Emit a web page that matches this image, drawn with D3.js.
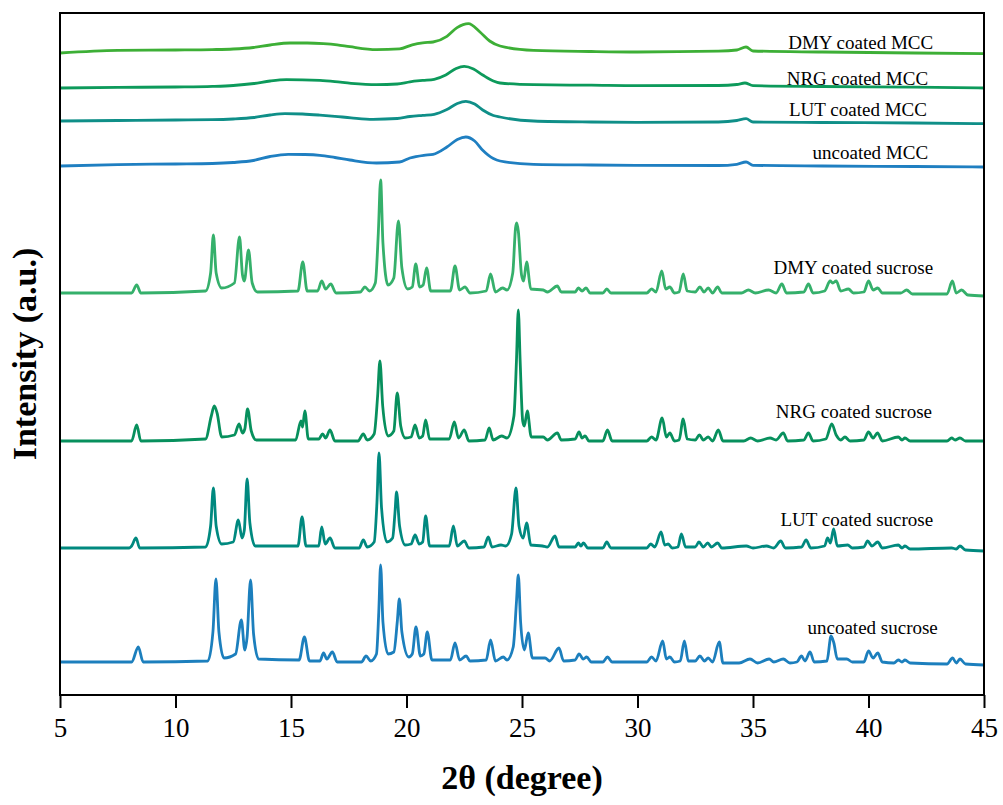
<!DOCTYPE html>
<html>
<head>
<meta charset="utf-8">
<title>XRD patterns</title>
<script src="https://cdn.jsdelivr.net/npm/d3@7"></script>
<style>
  html, body { margin: 0; padding: 0; background: #fff; }
  #chart { width: 1003px; height: 805px; }
  text { font-family: "Liberation Serif", "Times New Roman", serif; fill: #000; }
</style>
</head>
<body>
<div id="chart"></div>
<script>
// x ticks (2θ, degree)
const xTicks = [5, 10, 15, 20, 25, 30, 35, 40, 45];

// series names, bottom to top
const seriesNames = [
  'uncoated sucrose', 'LUT coated sucrose', 'NRG coated sucrose', 'DMY coated sucrose',
  'uncoated MCC', 'LUT coated MCC', 'NRG coated MCC', 'DMY coated MCC'
];

// vertical offset of each pattern (a.u.)
const seriesOffsets = [33, 147, 254, 402, 529, 574, 607, 642];

// label anchors: right edge in 2θ, height in a.u.
const labelX = [43.0, 42.8, 42.75, 42.8, 42.58, 42.53, 42.58, 42.8];
const labelY = [61, 169, 277, 421, 536, 579, 610, 646];

// [2θ, intensity]
const sucroseUncoated = [
  [5,0],[8.1,0],[8.39,15],[8.6,0],[11.4,1],[11.62,30],[11.75,83],[11.88,30],[12.1,4],[12.6,8],
  [12.85,42],[13.0,12],[13.1,25],[13.25,82],[13.38,28],[13.6,3],[15.35,2],[15.58,25],[15.8,1],
  [16.25,1],[16.41,9],[16.55,3],[16.79,10],[17.0,0],[18.05,0],[18.25,6],[18.45,1],[18.7,8],
  [18.8,50],[18.88,97],[18.98,40],[19.2,8],[19.45,10],[19.6,40],[19.69,63],[19.8,30],[20.1,5],
  [20.25,8],[20.41,35],[20.6,6],[20.75,8],[20.9,30],[21.1,2],[21.9,2],[22.1,19],[22.3,2],
  [22.58,6],[22.75,1],[23.45,2],[23.64,22],[23.85,1],[24.19,5],[24.35,2],[24.62,15],[24.76,60],
  [24.84,87],[24.94,40],[25.1,12],[25.27,29],[25.45,4],[26.0,4],[26.2,1],[26.6,14],[26.8,1],
  [27.3,2],[27.47,8],[27.65,3],[27.8,5],[28.0,0],[28.5,0],[28.7,5],[28.9,0],[30.4,0],[30.61,5],
  [30.8,1],[31.09,21],[31.25,3],[31.4,5],[31.6,0],[31.85,1],[32.03,21],[32.2,1],[32.5,1],
  [32.7,6],[32.9,1],[33.06,4],[33.25,0],[33.54,20],[33.7,-1],[34.4,-1],[34.87,3],[35.2,-1],
  [35.7,3],[35.9,0],[36.31,3],[36.6,-1],[36.9,0],[37.1,6],[37.25,1],[37.47,10],[37.65,0],
  [38.2,1],[38.38,26],[38.5,19],[38.65,3],[39.06,3],[39.3,0],[39.8,0],[40.0,11],[40.2,4],
  [40.4,9],[40.6,0],[41.1,-1],[41.29,2],[41.45,0],[41.58,2],[41.8,-1],[43.4,-2],[43.64,4],
  [43.8,-1],[43.96,3],[44.2,-2],[45,-3]
];

const sucroseLUT = [
  [5,0],[8.0,0],[8.1,2],[8.29,10],[8.45,0],[11.3,1],[11.52,22],[11.64,60],[11.76,22],[12.0,4],
  [12.5,6],[12.72,28],[12.88,10],[12.98,18],[13.1,69],[13.22,25],[13.45,2],[15.3,2],[15.48,31],
  [15.65,2],[16.2,2],[16.33,21],[16.48,4],[16.69,10],[16.9,0],[17.95,0],[18.13,8],[18.3,1],
  [18.6,6],[18.72,45],[18.81,95],[18.92,40],[19.15,6],[19.4,10],[19.5,35],[19.57,56],[19.7,22],
  [19.95,3],[20.2,4],[20.37,13],[20.55,4],[20.7,6],[20.83,32],[21.0,2],[21.85,2],[22.03,22],
  [22.2,2],[22.5,7],[22.7,0],[23.35,1],[23.54,11],[23.7,1],[24.09,3],[24.3,2],[24.55,14],
  [24.74,60],[24.87,22],[25.05,10],[25.2,25],[25.38,3],[25.89,2],[26.1,1],[26.43,12],[26.6,1],
  [27.3,1],[27.44,5],[27.55,2],[27.66,5],[27.85,0],[28.5,0],[28.67,6],[28.85,0],[30.4,0],
  [30.57,4],[30.75,1],[31.02,16],[31.18,3],[31.33,4],[31.5,0],[31.75,1],[31.9,14],[32.08,1],
  [32.5,1],[32.66,6],[32.85,1],[33.04,5],[33.2,1],[33.47,5],[33.65,0],[34.71,2],[35.0,0],
  [35.58,2],[35.9,0],[36.2,7],[36.4,0],[37.1,1],[37.3,8],[37.5,0],[38.1,2],[38.23,10],
  [38.35,5],[38.49,19],[38.65,2],[39.1,3],[39.3,0],[39.8,1],[39.96,7],[40.15,2],[40.4,6],
  [40.6,0],[41.29,3],[41.45,0],[41.58,2],[41.8,-1],[43.6,0],[43.8,-1],[43.96,2],[44.2,-2],
  [45,-3]
];

const sucroseNRG = [
  [5,0],[8.1,0],[8.32,16],[8.5,0],[11.3,2],[11.55,25],[11.68,35],[11.8,28],[12.0,4],[12.55,6],
  [12.75,17],[12.9,8],[13.0,12],[13.12,32],[13.28,10],[13.5,1],[15.2,1],[15.43,20],[15.5,14],
  [15.6,30],[15.75,2],[16.2,2],[16.37,7],[16.5,3],[16.69,11],[16.9,0],[17.9,0],[18.13,7],
  [18.3,1],[18.6,7],[18.75,45],[18.85,80],[18.97,35],[19.2,5],[19.45,10],[19.6,48],[19.75,15],
  [19.95,3],[20.2,4],[20.37,16],[20.55,3],[20.7,5],[20.83,21],[21.0,2],[21.85,2],[22.07,19],
  [22.25,3],[22.5,11],[22.7,0],[23.4,1],[23.58,13],[23.75,1],[24.12,5],[24.35,3],[24.65,25],
  [24.76,80],[24.84,131],[24.92,80],[25.03,20],[25.1,15],[25.23,30],[25.4,4],[25.92,4],
  [26.1,1],[26.53,8],[26.7,1],[27.3,2],[27.47,9],[27.6,3],[27.73,5],[27.9,0],[28.5,0],
  [28.7,11],[28.9,0],[30.4,0],[30.61,4],[30.8,1],[31.07,23],[31.25,4],[31.4,8],[31.6,0],
  [31.8,1],[31.98,22],[32.15,2],[32.5,1],[32.68,6],[32.85,1],[33.06,4],[33.25,0],[33.5,11],
  [33.7,0],[34.6,0],[34.9,3],[35.2,0],[35.74,3],[36.0,1],[36.31,8],[36.5,0],[37.2,1],
  [37.4,8],[37.6,0],[38.15,2],[38.41,17],[38.6,6],[38.8,1],[38.98,4],[39.2,0],[39.8,1],
  [40.0,9],[40.2,3],[40.39,8],[40.6,0],[41.29,4],[41.45,1],[41.58,3],[41.8,0],[43.4,0],
  [43.6,3],[43.75,1],[43.96,3],[44.2,0],[45,0]
];

const sucroseDMY = [
  [5,0],[8.1,0],[8.32,8],[8.5,0],[11.3,2],[11.52,20],[11.64,58],[11.76,20],[12.0,5],[12.55,10],
  [12.77,56],[12.9,18],[12.98,12],[13.16,43],[13.32,10],[13.55,1],[15.3,2],[15.51,31],[15.7,2],
  [16.15,2],[16.33,12],[16.5,4],[16.72,9],[16.95,0],[18.0,1],[18.2,6],[18.4,2],[18.65,10],
  [18.78,60],[18.88,113],[18.98,50],[19.2,8],[19.45,15],[19.65,72],[19.8,25],[20.05,4],
  [20.25,6],[20.4,29],[20.57,6],[20.72,8],[20.87,25],[21.05,2],[21.9,2],[22.1,27],[22.3,3],
  [22.53,6],[22.75,0],[23.45,2],[23.64,19],[23.85,1],[24.16,5],[24.35,3],[24.6,20],[24.72,65],
  [24.77,70],[24.84,62],[24.98,18],[25.07,12],[25.2,31],[25.38,4],[25.92,3],[26.1,1],
  [26.53,7],[26.7,1],[27.3,1],[27.44,5],[27.6,2],[27.77,5],[27.95,0],[28.5,0],[28.67,4],
  [28.85,0],[30.4,0],[30.61,4],[30.8,1],[31.05,22],[31.22,4],[31.4,6],[31.6,0],[31.8,1],
  [31.98,19],[32.15,2],[32.5,1],[32.7,6],[32.88,1],[33.06,5],[33.25,0],[33.47,6],[33.65,0],
  [34.5,0],[34.8,3],[35.1,0],[35.68,3],[36.0,0],[36.25,9],[36.45,0],[37.2,1],[37.4,9],
  [37.6,0],[38.1,2],[38.34,12],[38.45,10],[38.6,12],[38.8,2],[39.13,4],[39.35,0],[39.8,1],
  [40.0,12],[40.2,3],[40.4,5],[40.6,0],[41.4,0],[41.65,3],[41.9,-1],[43.4,-1],[43.63,12],
  [43.8,0],[44.03,3],[44.3,-2],[45,-3]
];

const mccUncoated = [
  [5,0],[7.5,1.4],[10,2],[11.6,2.5],[12.5,3.5],[13.37,5.5],[14.1,9.5],[14.88,11.7],[15.6,11.5],
  [16.25,10.7],[16.9,8.5],[17.55,6],[18.7,3],[19.7,4],[20.15,8],[20.75,10.7],[21.15,11.6],
  [21.75,19],[22.2,26.5],[22.57,29],[22.95,25],[23.3,15.7],[23.76,7.4],[24.05,5],[25.5,1.7],
  [28,1],[30,0.7],[33.5,0.5],[34.3,1.7],[34.7,4],[35.0,0.7],[38,0],[42,-0.5],[45,-1]
];

const mccLUT = [
  [5,0],[7.5,0.5],[10,1],[11.6,1.3],[12.5,2],[13.4,3.5],[14.1,6],[14.74,7.4],[15.5,7],
  [16.25,5.9],[16.9,4.7],[17.6,3.2],[18.55,1.7],[19.6,2.5],[20.15,4.5],[20.7,5.7],[21.2,6.7],
  [21.75,11.5],[22.2,17.5],[22.57,19.7],[22.95,17],[23.3,11],[23.76,5.5],[24.05,4],[25.5,0],
  [28,-1],[30,-1.3],[33.5,-1],[34.3,0.5],[34.7,2.4],[35.0,-1],[38,-1.5],[42,-2],[45,-2.6]
];

const mccNRG = [
  [5,0],[7.5,0.6],[10,1],[11.6,1.6],[12.5,2.5],[13.4,4.5],[14.1,7],[14.8,8.3],[15.5,8.2],
  [16.25,7.6],[16.9,6.4],[17.6,4.7],[18.7,3.3],[19.6,4],[20.15,6.2],[20.7,7.6],[21.2,8.7],
  [21.7,13],[22.15,19.5],[22.5,21.6],[22.9,19],[23.3,13],[23.76,7],[24.05,5],[25.5,3.3],
  [28,2.8],[30,2.3],[33.5,2.5],[34.3,3.5],[34.65,5],[35.0,2.3],[38,1.5],[42,0.8],[45,0]
];

const mccDMY = [
  [5,0],[7.5,2.7],[10,3],[11.6,3.4],[12.5,4],[13.37,5.5],[14.1,8],[14.96,10],[15.7,10],
  [16.4,9.4],[17.0,8.2],[17.55,6.3],[18.7,3.4],[19.7,4.2],[20.25,8.2],[20.7,10.2],[21.15,11],
  [21.75,16.7],[22.19,25.4],[22.68,29.4],[23.18,21],[23.6,12],[24.05,7],[25.5,2.7],[28,1.5],
  [30,1],[33.5,1.8],[34.3,3],[34.7,6],[35.0,2],[38,1],[42,0],[45,-0.6]
];

const seriesData = [
  sucroseUncoated, sucroseLUT, sucroseNRG, sucroseDMY,
  mccUncoated, mccLUT, mccNRG, mccDMY
];

const seriesColors = [
  '#1c7fbd', '#00897f', '#07905d', '#35b06b',
  '#1f7fc1', '#0f8f88', '#0d9a5b', '#3daf36'
];

(function() {
  'use strict';

  /**
   * 차트 그리기
   */
  function render() {
    const W = 1003;
    const H = 805;
    const margin = { top: 13, right: 19, bottom: 110, left: 60 };

    const svg = d3.select('#chart')
      .append('svg')
      .attr('width', W)
      .attr('height', H);

    // 스케일
    const x = d3.scaleLinear()
      .domain([5, 45])
      .range([margin.left, W - margin.right]);

    const y = d3.scaleLinear()
      .domain([0, 682])
      .range([H - margin.bottom, margin.top]);

    // 패턴 라인
    const line = d3.line()
      .x(d => x(d[0]))
      .y(d => y(d[1]))
      .curve(d3.curveMonotoneX);

    seriesData.forEach((pts, i) => {
      const shifted = pts.map(p => [p[0], p[1] + seriesOffsets[i]]);
      svg.append('path')
        .datum(shifted)
        .attr('fill', 'none')
        .attr('stroke', seriesColors[i])
        .attr('stroke-width', 2.8)
        .attr('stroke-linejoin', 'round')
        .attr('d', line);
    });

    // 시리즈 라벨
    seriesNames.forEach((name, i) => {
      svg.append('text')
        .attr('x', x(labelX[i]))
        .attr('y', y(labelY[i]))
        .attr('text-anchor', 'end')
        .attr('font-size', '19px')
        .text(name);
    });

    // X축
    const xAxis = svg.append('g')
      .attr('transform', `translate(0,${H - margin.bottom})`)
      .call(d3.axisBottom(x)
        .tickValues(xTicks)
        .tickSize(13)
        .tickPadding(10)
        .tickFormat(d3.format('d')));

    xAxis.select('.domain').remove();
    xAxis.selectAll('.tick line')
      .attr('stroke', '#000')
      .attr('stroke-width', 2);
    xAxis.selectAll('.tick text')
      .attr('font-size', '27px')
      .attr('font-family', '"Liberation Serif", serif')
      .attr('fill', '#000');

    // 프레임
    svg.append('rect')
      .attr('x', margin.left)
      .attr('y', margin.top)
      .attr('width', W - margin.left - margin.right)
      .attr('height', H - margin.top - margin.bottom)
      .attr('fill', 'none')
      .attr('stroke', '#000')
      .attr('stroke-width', 2);

    // 축 제목
    svg.append('text')
      .attr('x', (margin.left + W - margin.right) / 2)
      .attr('y', 789)
      .attr('text-anchor', 'middle')
      .attr('font-size', '34px')
      .attr('font-weight', 'bold')
      .text('2θ (degree)');

    svg.append('text')
      .attr('transform', `translate(36,${(margin.top + H - margin.bottom) / 2}) rotate(-90)`)
      .attr('text-anchor', 'middle')
      .attr('font-size', '34px')
      .attr('font-weight', 'bold')
      .text('Intensity (a.u.)');
  }

  if (document.readyState === 'loading') {
    document.addEventListener('DOMContentLoaded', render);
  } else {
    render();
  }
})();
</script>
</body>
</html>
